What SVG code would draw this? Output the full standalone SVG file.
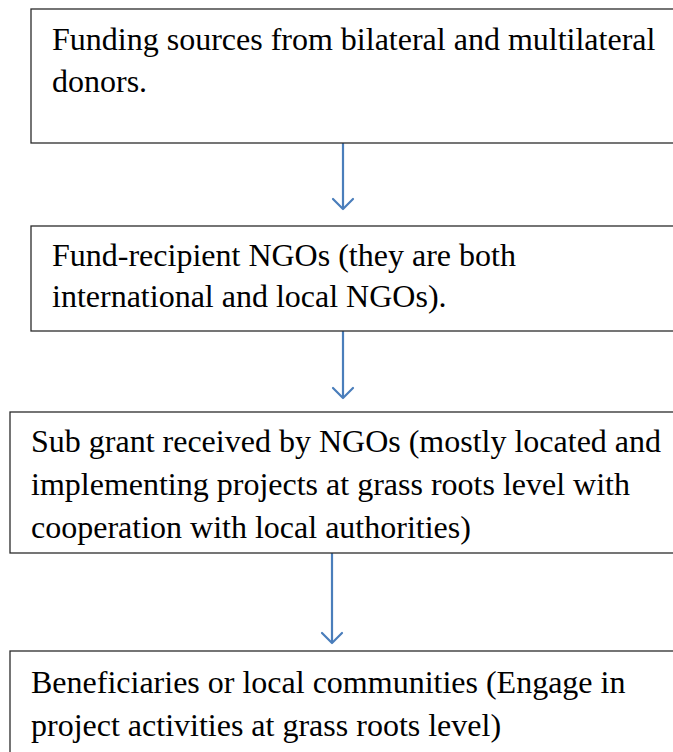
<svg xmlns="http://www.w3.org/2000/svg" width="673" height="752" viewBox="0 0 673 752">
  <defs>
    <style>
      .box { fill: #ffffff; stroke: #2b2b2b; stroke-width: 1.3; }
      .label { font-family: "Liberation Serif", "Times New Roman", serif; font-size: 32px; fill: #000000; }
      .link { stroke: #4a7ebb; stroke-width: 2.2; fill: none; }
      .head { stroke: #4a7ebb; stroke-width: 2.2; fill: none; stroke-linecap: round; stroke-linejoin: round; }
    </style>
  </defs>
  <rect width="673" height="752" fill="#ffffff"/>

  <g id="connectors">
    <line class="link" x1="343" y1="143" x2="343" y2="209"/>
    <polyline class="head" points="333,199 343,209 353,199"/>
    <line class="link" x1="343" y1="331" x2="343" y2="398"/>
    <polyline class="head" points="333,388 343,398 353,388"/>
    <line class="link" x1="332" y1="553" x2="332" y2="643"/>
    <polyline class="head" points="322,633 332,643 342,633"/>
  </g>

  <g id="donors">
    <rect class="box" x="31" y="9" width="660" height="134"/>
    <text class="label" x="52" y="50">Funding sources from bilateral and multilateral</text>
    <text class="label" x="52" y="92">donors.</text>
  </g>

  <g id="recipient-ngos">
    <rect class="box" x="31" y="226" width="660" height="105"/>
    <text class="label" x="52" y="266">Fund-recipient NGOs (they are both</text>
    <text class="label" x="52" y="307">international and local NGOs).</text>
  </g>

  <g id="sub-grant-ngos">
    <rect class="box" x="10" y="412" width="680" height="141"/>
    <text class="label" x="31" y="452">Sub grant received by NGOs (mostly located and</text>
    <text class="label" x="31" y="495">implementing projects at grass roots level with</text>
    <text class="label" x="31" y="538">cooperation with local authorities)</text>
  </g>

  <g id="beneficiaries">
    <rect class="box" x="10" y="651" width="680" height="120"/>
    <text class="label" x="31" y="693">Beneficiaries or local communities (Engage in</text>
    <text class="label" x="31" y="736">project activities at grass roots level)</text>
  </g>
</svg>
